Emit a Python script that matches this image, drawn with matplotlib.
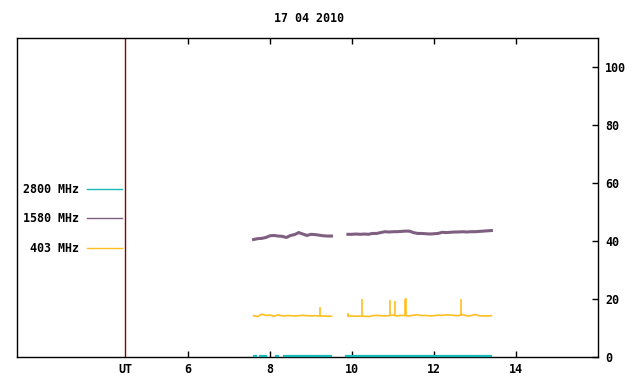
import numpy as np
import matplotlib
matplotlib.use("Agg")
import matplotlib.pyplot as plt

# Solar radio flux, 17 04 2010 (UT hours)
t_seg1 = [7.6, 7.7, 7.8, 7.9, 8.0, 8.1, 8.2, 8.3, 8.4, 8.5,
          8.6, 8.7, 8.8, 8.9, 9.0, 9.1, 9.2, 9.3, 9.4, 9.5]
t_seg2 = [9.9, 10.0, 10.1, 10.2, 10.3, 10.4, 10.5, 10.6, 10.7, 10.8,
          10.9, 11.0, 11.1, 11.2, 11.3, 11.4, 11.5, 11.6, 11.7, 11.8,
          11.9, 12.0, 12.1, 12.2, 12.3, 12.4, 12.5, 12.6, 12.7, 12.8,
          12.9, 13.0, 13.1, 13.2, 13.3, 13.4]

f1580_seg1 = [40.4, 40.7, 40.8, 41.1, 41.7, 41.8, 41.6, 41.5, 41.1, 41.8,
              42.1, 42.8, 42.3, 41.8, 42.2, 42.1, 41.9, 41.7, 41.6, 41.6]
f1580_seg2 = [42.2, 42.2, 42.3, 42.2, 42.3, 42.2, 42.5, 42.5, 42.8, 43.1,
              43.0, 43.1, 43.1, 43.2, 43.3, 43.3, 42.8, 42.5, 42.5, 42.4,
              42.3, 42.4, 42.5, 42.9, 42.8, 42.9, 43.0, 43.0, 43.1, 43.0,
              43.1, 43.1, 43.2, 43.3, 43.4, 43.5]

f403_seg1 = [14.1, 13.8, 14.6, 14.2, 14.3, 13.9, 14.4, 14.0, 14.1, 14.1,
             14.0, 14.1, 14.2, 14.1, 14.0, 14.1, 14.0, 14.0, 13.9, 13.9]
f403_seg2 = [13.9, 14.0, 13.9, 14.0, 13.9, 13.8, 14.1, 14.2, 14.1, 14.0,
             14.1, 14.3, 14.0, 14.2, 14.1, 14.0, 14.3, 14.4, 14.1, 14.2,
             14.0, 14.1, 14.3, 14.2, 14.4, 14.3, 14.2, 14.1, 14.5, 14.0,
             14.1, 14.5, 14.1, 14.0, 14.0, 14.1]

# short bursts at 403 MHz
spike_t = [9.23, 9.91, 10.25, 10.93, 11.06, 11.29, 11.32, 12.67]
spike_v = [17.1, 15.0, 19.8, 19.4, 19.1, 20.0, 20.1, 19.8]
spike_base = 14.1

# 2800 MHz stays near zero, with gaps early on
t2800 = [7.6, 7.65, np.nan, 7.75, 7.8, 7.9, np.nan, 8.15, 8.2, np.nan,
         8.35, 8.5, 8.7, 8.85, np.nan, 8.9, 9.2, 9.45, 9.5, np.nan,
         9.85, 10.5, 11.5, 12.5, 13.4]
f2800 = [0.3, 0.3, np.nan, 0.3, 0.3, 0.3, np.nan, 0.3, 0.3, np.nan,
         0.3, 0.3, 0.3, 0.3, np.nan, 0.3, 0.3, 0.3, 0.3, np.nan,
         0.3, 0.3, 0.3, 0.3, 0.3]

ut_pos = 4.47
xticks = [6, 8, 10, 12, 14]
yticks = [0, 20, 40, 60, 80, 100]

c2800 = '#1cb8b8'
c1580 = '#7f5f80'
c403 = '#ffbf20'

font = {'family': 'DejaVu Sans Mono', 'weight': 'bold', 'size': 8.4}

fig = plt.figure(figsize=(6.4, 3.84), dpi=100)
ax = fig.add_axes([17 / 640, 1 - 356.5 / 384, 581 / 640, 318.5 / 384])

ax.plot(t2800, f2800, color=c2800, lw=1.6, label='2800 MHz', clip_on=False, zorder=5)
ax.plot(t_seg1, f1580_seg1, color=c1580, lw=2.2, label='1580 MHz')
ax.plot(t_seg2, f1580_seg2, color=c1580, lw=2.2)
ax.plot(t_seg1, f403_seg1, color=c403, lw=1.2, label='403 MHz')
ax.plot(t_seg2, f403_seg2, color=c403, lw=1.2)
ax.vlines(spike_t, spike_base, spike_v, color=c403, lw=1.2)

ax.axvline(ut_pos, color='#8b0000', lw=1.0)

ax.set_xlim(1.83, 16.0)
ax.set_ylim(0, 110)
ax.set_xticks(xticks)
ax.set_xticklabels([str(v) for v in xticks], fontdict=font)
ax.set_yticks(yticks)
ax.set_yticklabels([str(v) for v in yticks], fontdict=font)
ax.yaxis.tick_right()
ax.tick_params(axis='x', direction='in', top=True, bottom=True, length=4, width=1, pad=5)
ax.tick_params(axis='y', direction='in', left=False, right=True, length=4, width=1, pad=5)
for s in ax.spines.values():
    s.set_linewidth(1.0)

ax.text(ut_pos, -2.3, 'UT', ha='center', va='top', **font)
fig.text(309 / 640, 1 - 18 / 384, '17 04 2010', ha='center', va='center', **font)

leg = ax.legend(loc='center right', bbox_to_anchor=(122 / 640, 1 - 219 / 384),
                bbox_transform=fig.transFigure, markerfirst=False, frameon=False,
                handlelength=3.0, handletextpad=0.7, labelspacing=1.45,
                borderpad=0, borderaxespad=0,
                prop={'family': 'DejaVu Sans Mono', 'weight': 'bold', 'size': 8.4})
for line in leg.get_lines():
    line.set_linewidth(1.0)

fig.savefig('out.png', dpi=100)
